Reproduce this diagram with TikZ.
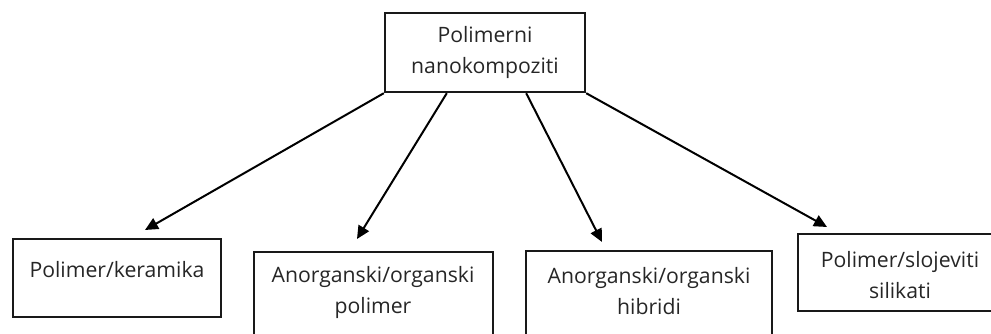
\documentclass[tikz,border=0pt]{standalone}
\usepackage{fontspec}
\setmainfont{Open Sans}
\usetikzlibrary{arrows.meta}
\definecolor{txt}{HTML}{262626}
\tikzset{
  boxnode/.style={draw=black!90, line width=2.4pt, rectangle, inner sep=0pt},
  lbl/.style={align=center, text=txt, font=\fontsize{21.2}{31}\selectfont, inner sep=0pt},
  conn/.style={line width=2pt, -{Triangle[length=13pt,width=12pt]}}
}
\begin{document}
\begin{tikzpicture}[x=1pt,y=1pt]
\useasboundingbox (0,0) rectangle (991,334);
\clip (0,0) rectangle (991,334);
% boxes
\node[boxnode, minimum width=200pt, minimum height=79pt] (top) at (485,281.5) {};
\node[lbl] (ttop) at (485,282) {Polimerni\\nanokompoziti};
\node[boxnode, minimum width=208pt, minimum height=78pt] (b1) at (117,56) {};
\node[lbl] (t1) at (117,64) {Polimer/keramika};
\node[boxnode, minimum width=239pt, minimum height=102pt] (b2) at (373.5,31) {};
\node[lbl] (t2) at (373,41.5) {Anorganski/organski\\polimer};
\node[boxnode, minimum width=246pt, minimum height=103pt] (b3) at (649,31.5) {};
\node[lbl] (t3) at (649,43) {Anorganski/organski\\hibridi};
\node[boxnode, minimum width=202pt, minimum height=77pt] (b4) at (899,61.5) {};
\node[lbl] (t4) at (900,59) {Polimer/slojeviti\\silikati};
% arrow ends
\coordinate (e1) at (145,104);
\coordinate (e2) at (357,95);
\coordinate (e3) at (602,92);
\coordinate (e4) at (827,107);
\draw[conn] (top.south west) -- (e1);
\draw[conn] ([xshift=63pt]top.south west) -- (e2);
\draw[conn] ([xshift=-60pt]top.south east) -- (e3);
\draw[conn] (top.south east) -- (e4);
\end{tikzpicture}
\end{document}
